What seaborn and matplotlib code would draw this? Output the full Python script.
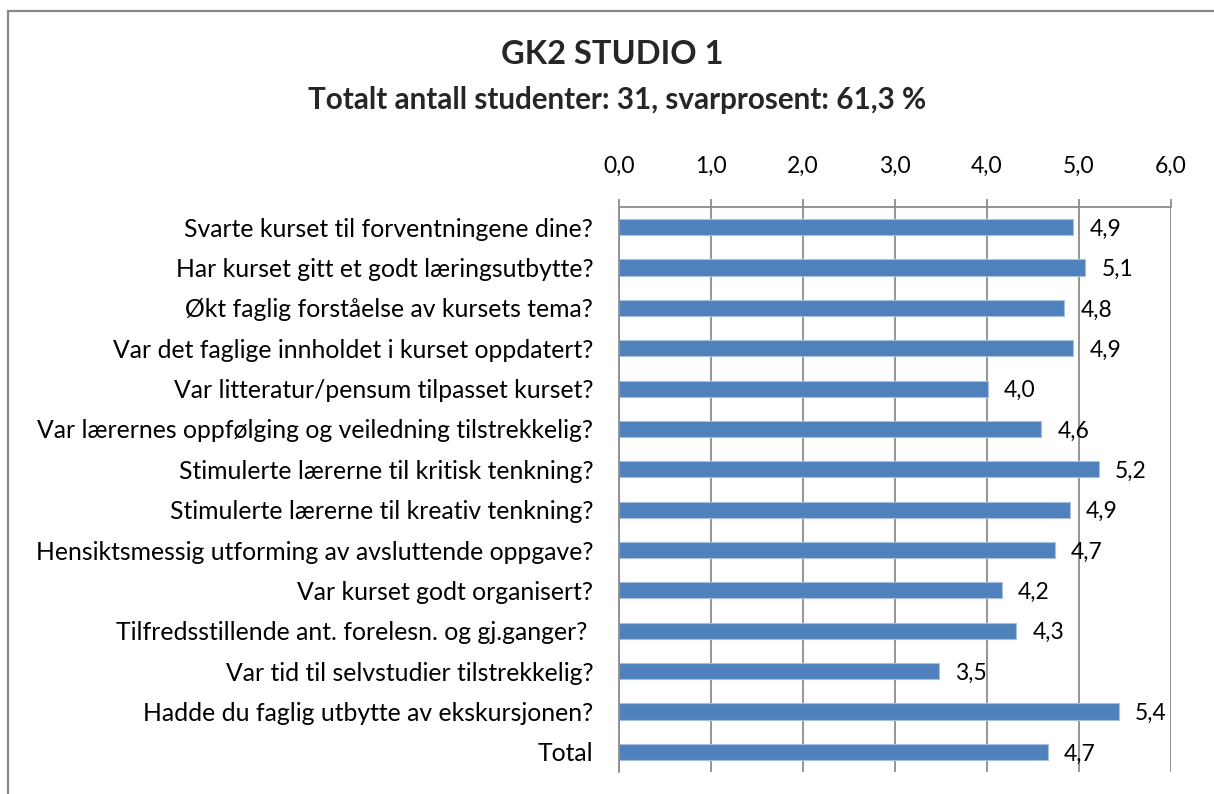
import matplotlib
matplotlib.use("Agg")
import matplotlib.pyplot as plt
import seaborn as sns
import pandas as pd
from matplotlib.patches import Rectangle

categories = [
    "Svarte kurset til forventningene dine?",
    "Har kurset gitt et godt læringsutbytte?",
    "Økt faglig forståelse av kursets tema?",
    "Var det faglige innholdet i kurset oppdatert?",
    "Var litteratur/pensum tilpasset kurset?",
    "Var lærernes oppfølging og veiledning tilstrekkelig?",
    "Stimulerte lærerne til kritisk tenkning?",
    "Stimulerte lærerne til kreativ tenkning?",
    "Hensiktsmessig utforming av avsluttende oppgave?",
    "Var kurset godt organisert?",
    "Tilfredsstillende ant. forelesn. og gj.ganger? ",
    "Var tid til selvstudier tilstrekkelig?",
    "Hadde du faglig utbytte av ekskursjonen?",
    "Total",
]
values = [4.94, 5.07, 4.84, 4.94, 4.01, 4.59, 5.22, 4.90, 4.74, 4.16, 4.32, 3.48, 5.43, 4.66]
x_ticks = [0, 1, 2, 3, 4, 5, 6]
x_tick_labels = ["0,0", "1,0", "2,0", "3,0", "4,0", "5,0", "6,0"]
title = "GK2 STUDIO 1"
subtitle = "Totalt antall studenter: 31, svarprosent: 61,3 %"

sns.set_theme(style="white")
plt.rcParams["font.family"] = ["Lato", "DejaVu Sans"]

df = pd.DataFrame({"category": categories, "value": values})

W, H = 1214, 794
GRID = "#8C8C8C"
fig = plt.figure(figsize=(W / 100, H / 100), dpi=100)
ax = fig.add_axes([619 / W, 1 - 772 / H, (1171 - 619) / W, (772 - 207) / H])

sns.barplot(data=df, y="category", x="value", orient="h", color="#4F81BD",
            width=0.4, edgecolor="#A7C0DE", linewidth=0.8, saturation=1, ax=ax)

ax.set_xlim(0, 6)
ax.set_ylim(len(categories) - 0.5, -0.5)
ax.set_xticks(x_ticks)
ax.set_xticklabels(x_tick_labels)
ax.xaxis.tick_top()
ax.tick_params(axis="x", direction="out", length=6, width=1.3, color=GRID,
               pad=16, labelsize=16.5, labelcolor="black")
ax.set_xlabel("")
ax.set_ylabel("")

ax.set_yticks(range(len(categories)))
ax.set_yticklabels(categories)
ax.set_yticks([i - 0.5 for i in range(len(categories) + 1)], minor=True)
ax.tick_params(axis="y", which="major", length=0, pad=18.5, labelsize=17.8, labelcolor="black")
ax.tick_params(axis="y", which="minor", direction="out", length=6, width=1.3, color=GRID)

ax.grid(axis="x", color=GRID, linewidth=1.3)
ax.set_axisbelow(True)
ax.spines["right"].set_visible(False)
ax.spines["bottom"].set_visible(False)
for s in ["left", "top"]:
    ax.spines[s].set_color(GRID)
    ax.spines[s].set_linewidth(1.3)

for i, v in enumerate(values):
    ax.annotate(f"{v:.1f}".replace(".", ","), xy=(v, i), xytext=(11.5, -1.5),
                textcoords="offset points", va="center", ha="left",
                fontsize=16.5, color="black")

fig.text(612 / W, 1 - 55 / H, title, ha="center", va="center", fontsize=23.5, fontweight="bold")
fig.text(617 / W, 1 - 100 / H, subtitle, ha="center", va="center", fontsize=21.3, fontweight="bold")

fig.patches.append(Rectangle((8 / W, -0.05), 1.2, 1 - 11 / H + 0.05, transform=fig.transFigure,
                             fill=False, edgecolor="#868686", linewidth=1.6))

fig.savefig("out.png", dpi=100)
